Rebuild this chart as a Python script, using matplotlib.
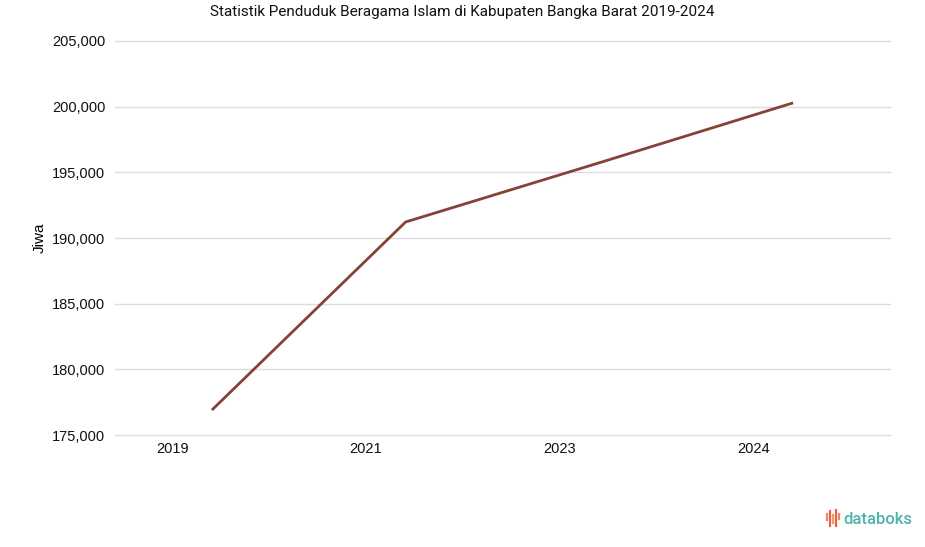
import matplotlib
matplotlib.use('Agg')
import matplotlib.pyplot as plt
from matplotlib.lines import Line2D
from matplotlib.ticker import FuncFormatter

tahun = ['2019', '2021', '2023', '2024']
jiwa = [176900, 191220, 195730, 200290]

fig = plt.figure(figsize=(9.25, 5.47), dpi=100)
ax = fig.add_axes([115/925, 1-435/547, 775/925, 394/547])

x = range(len(tahun))
ax.plot(x, jiwa, color='#854236', linewidth=2.0, solid_capstyle='butt')

ax.set_xlim(-0.5, len(tahun)-0.5)
ax.set_ylim(175000, 205000)
ax.set_yticks(range(175000, 205001, 5000))
ax.yaxis.set_major_formatter(FuncFormatter(lambda v, p: f'{int(v):,}'))
# label tahun digeser ke kiri dari titik data
ax.set_xticks([i - 0.205 for i in x])
ax.set_xticklabels(tahun)

ax.grid(axis='y', color='#dddddd', linewidth=1)
for gl in ax.get_ygridlines():
    gl.set_clip_on(False)
ax.set_axisbelow(True)
for s in ax.spines.values():
    s.set_visible(False)
ax.tick_params(axis='both', length=0, labelsize=10.5, labelcolor='#111111',
               labelfontfamily='Liberation Sans')
ax.tick_params(axis='y', pad=7)
ax.tick_params(axis='x', pad=5)

ax.set_ylabel('Jiwa', fontsize=11, family='Liberation Sans', labelpad=4)

fig.text(0.5, 1-12/547, 'Statistik Penduduk Beragama Islam di Kabupaten Bangka Barat 2019-2024',
         ha='center', va='center', fontsize=11, family='Roboto', color='#111111')

# logo databoks
fig.text(843/925, 1-519/547, 'databoks', ha='left', va='center', fontsize=12,
         family='Roboto', color='#4bb3ad', fontweight='medium')
bar_x = [827, 830, 833, 836, 839]
bar_top = [514, 511, 515, 510, 514]
bar_bot = [520, 526, 523, 526, 519]
bar_col = ['#f08a5d', '#e9604f', '#f39c5a', '#e9604f', '#f08a5d']
for bx, bt, bb, bc in zip(bar_x, bar_top, bar_bot, bar_col):
    fig.add_artist(Line2D([bx/925, bx/925], [1-bt/547, 1-bb/547], color=bc, linewidth=1.6))

fig.savefig('out.png', dpi=100)
